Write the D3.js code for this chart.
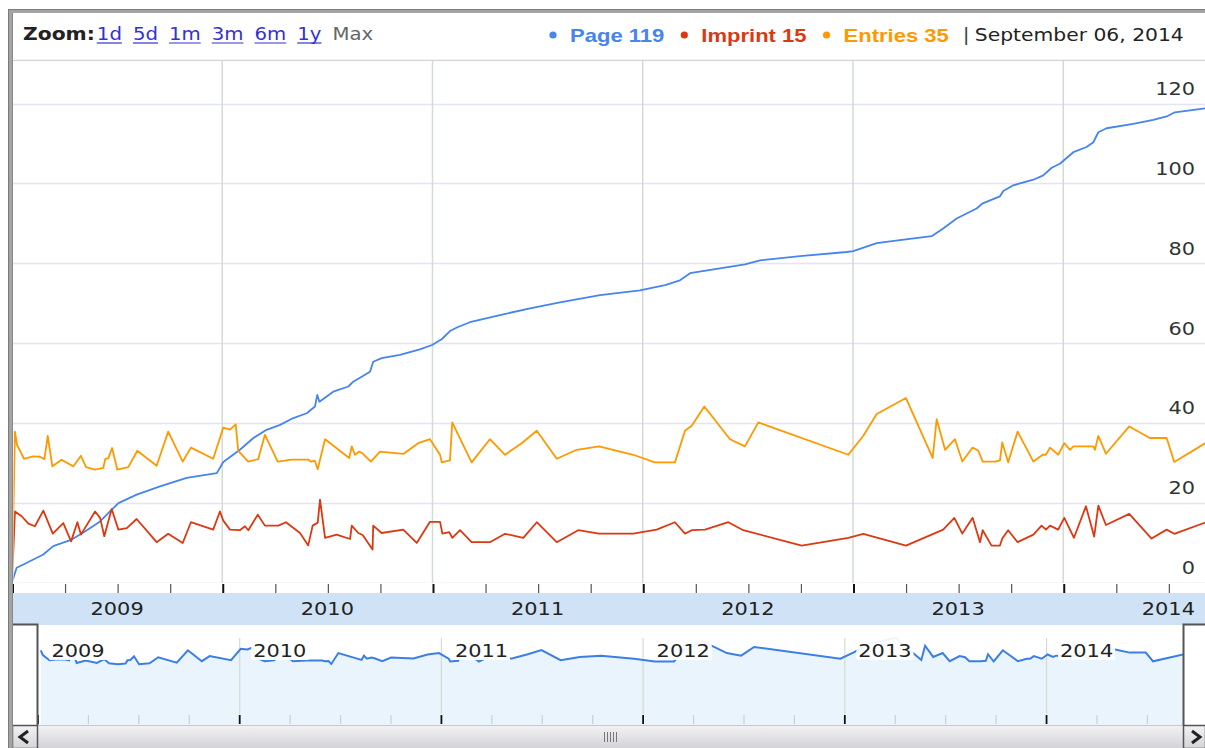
<!DOCTYPE html>
<html>
<head>
<meta charset="utf-8">
<script src="https://cdn.jsdelivr.net/npm/d3@7"></script>
<style>
    body { margin: 0; background: #fff; }
    svg { display: block; }
</style>
</head>
<body>
<svg id="chart" width="1205" height="748"></svg>
<script>
// series, x values are fractional years (2009.5 = middle of 2009)
const seriesNames = ["Page", "Imprint", "Entries"];
const seriesColors = ["#4684ee", "#dc3912", "#ff9900"];

const pageYears = [2009.000, 2009.022, 2009.054, 2009.149, 2009.196, 2009.284, 2009.347, 2009.419, 2009.466, 2009.506,
    2009.593, 2009.704, 2009.831, 2009.974, 2010.005, 2010.084, 2010.148, 2010.211, 2010.275, 2010.338,
    2010.402, 2010.441, 2010.452, 2010.462, 2010.528, 2010.600, 2010.623, 2010.703, 2010.718, 2010.758,
    2010.845, 2010.940, 2010.998, 2011.045, 2011.083, 2011.121, 2011.178, 2011.321, 2011.464, 2011.606,
    2011.797, 2011.987, 2012.106, 2012.177, 2012.225, 2012.367, 2012.486, 2012.558, 2012.748, 2012.970,
    2013.001, 2013.113, 2013.223, 2013.374, 2013.429, 2013.493, 2013.588, 2013.617, 2013.699, 2013.715,
    2013.762, 2013.858, 2013.905, 2013.945, 2013.984, 2014.048, 2014.111, 2014.143, 2014.167, 2014.206,
    2014.333, 2014.428, 2014.492, 2014.531, 2014.679];
const pageValues = [0, 3.7, 4.5, 7, 9.1, 10.75, 12.8, 15.3, 17.8, 19.9,
    22, 24.1, 26.2, 27.4, 30.2, 33.25, 36.2, 38.25, 39.5, 41.2,
    42.4, 44.1, 47, 45.3, 47.8, 49.1, 50.3, 52.8, 55.3, 56.2,
    57, 58.4, 59.5, 61, 63, 64, 65.2, 67, 68.7, 70.2,
    72, 73.2, 74.5, 75.7, 77.5, 78.7, 79.7, 80.7, 81.75, 82.8,
    83, 85, 85.75, 86.75, 88.7, 91.2, 93.7, 95, 96.75, 98.1,
    99.5, 100.9, 102, 103.9, 104.9, 107.8, 109.1, 110.3, 112.8, 113.8,
    114.9, 115.9, 116.75, 117.8, 118.8];

const imprintYears = [2009.000, 2009.014, 2009.046, 2009.078, 2009.109, 2009.149, 2009.194, 2009.244, 2009.281, 2009.311,
    2009.328, 2009.395, 2009.419, 2009.439, 2009.474, 2009.506, 2009.546, 2009.593, 2009.688, 2009.743,
    2009.812, 2009.851, 2009.957, 2009.989, 2010.005, 2010.037, 2010.084, 2010.108, 2010.124, 2010.169,
    2010.203, 2010.267, 2010.303, 2010.370, 2010.409, 2010.430, 2010.454, 2010.465, 2010.489, 2010.544,
    2010.608, 2010.616, 2010.647, 2010.668, 2010.715, 2010.718, 2010.758, 2010.861, 2010.925, 2010.988,
    2011.036, 2011.047, 2011.080, 2011.094, 2011.131, 2011.186, 2011.273, 2011.345, 2011.432, 2011.496,
    2011.591, 2011.693, 2011.792, 2011.955, 2012.066, 2012.153, 2012.201, 2012.233, 2012.296, 2012.407,
    2012.478, 2012.756, 2012.978, 2013.049, 2013.252, 2013.382, 2013.429, 2013.482, 2013.520, 2013.569,
    2013.604, 2013.617, 2013.659, 2013.699, 2013.710, 2013.738, 2013.783, 2013.858, 2013.897, 2013.918,
    2013.937, 2013.976, 2014.005, 2014.051, 2014.108, 2014.147, 2014.167, 2014.203, 2014.314, 2014.420,
    2014.492, 2014.528, 2014.679];
const imprintValues = [0, 17.8, 16.6, 14.75, 14.1, 18, 12.25, 14.9, 10.3, 15.1,
    12, 17.8, 16.2, 11.6, 18.4, 13.25, 13.6, 15.9, 10.1, 12.2,
    9.9, 15.1, 13.25, 17.8, 15.5, 13.25, 13.1, 14.1, 13.1, 17,
    14.25, 14.25, 15.1, 12.4, 9.3, 14.25, 15, 20.75, 11.2, 12,
    10.9, 14.25, 12.4, 11.9, 8.25, 14.25, 12.4, 13.25, 9.9, 15.2,
    15.2, 12.25, 12.6, 11.2, 13.1, 10.1, 10.1, 12.2, 11.2, 15.1,
    10.1, 13.1, 12.25, 12.25, 13.25, 15.1, 12.25, 13.1, 13.25, 15.1,
    13.1, 9.25, 11.2, 12.2, 9.25, 12.2, 13.25, 16.2, 12.25, 16.2,
    10.1, 13.1, 9.25, 9.25, 11, 13.1, 10.1, 12, 14.25, 13.25,
    14.25, 13.25, 16.2, 11.2, 19.1, 11.5, 19.25, 14.4, 17.2, 11,
    13.25, 12.2, 15.1];

const entriesYears = [2009.000, 2009.014, 2009.024, 2009.057, 2009.100, 2009.133, 2009.154, 2009.170, 2009.192, 2009.236,
    2009.292, 2009.328, 2009.352, 2009.395, 2009.434, 2009.444, 2009.458, 2009.476, 2009.501, 2009.553,
    2009.596, 2009.688, 2009.743, 2009.812, 2009.851, 2009.957, 2010.005, 2010.037, 2010.064, 2010.076,
    2010.124, 2010.171, 2010.203, 2010.264, 2010.330, 2010.409, 2010.421, 2010.440, 2010.454, 2010.489,
    2010.604, 2010.616, 2010.631, 2010.652, 2010.668, 2010.707, 2010.750, 2010.861, 2010.932, 2010.988,
    2011.036, 2011.044, 2011.083, 2011.094, 2011.186, 2011.273, 2011.345, 2011.424, 2011.496, 2011.591,
    2011.686, 2011.792, 2011.955, 2012.058, 2012.153, 2012.201, 2012.233, 2012.293, 2012.415, 2012.486,
    2012.550, 2012.978, 2013.049, 2013.113, 2013.252, 2013.379, 2013.398, 2013.438, 2013.485, 2013.520,
    2013.569, 2013.596, 2013.617, 2013.675, 2013.699, 2013.710, 2013.738, 2013.783, 2013.858, 2013.902,
    2013.918, 2013.937, 2013.976, 2014.005, 2014.032, 2014.048, 2014.143, 2014.151, 2014.167, 2014.203,
    2014.314, 2014.412, 2014.492, 2014.528, 2014.679];
const entriesValues = [0, 37.8, 34.5, 31, 31.6, 31.5, 30.9, 36.7, 29.1, 30.75,
    29.1, 31.75, 28.9, 28.25, 28.7, 31, 31.1, 33.7, 28.25, 28.9,
    33, 29.25, 37.8, 30.3, 33.8, 31, 38.8, 38.3, 39.6, 33,
    30.3, 30.9, 37, 30.3, 30.8, 30.8, 30.3, 30.5, 28.4, 35.9,
    31.2, 34.1, 32, 32.8, 32.3, 30.3, 32.8, 32.2, 34.9, 35.9,
    32, 30.1, 30.6, 40.1, 30.1, 35.9, 32, 34.9, 38, 31,
    33.25, 34.1, 32, 30.1, 30.1, 38, 39.25, 44.1, 35.9, 34.1,
    40.1, 32, 36.75, 42.2, 46.2, 31.2, 40.9, 33.25, 35.9, 30.3,
    33.8, 33, 30.3, 30.3, 30.6, 35.1, 30.1, 37.8, 30.3, 32,
    32, 33.8, 32, 34.9, 33.25, 34.1, 34.1, 33.25, 36.75, 32.25,
    39.1, 36.2, 36.2, 30.2, 35];

const yTicks = [0, 20, 40, 60, 80, 100, 120];
const yearTicks = [2009, 2010, 2011, 2012, 2013, 2014];
const zoomLinks = ["1d", "5d", "1m", "3m", "6m", "1y"];
const firstYear = 2009;
const lastYear = 2014.679;
const lastDateLabel = "September 06, 2014";

const series = [
    {years: pageYears, values: pageValues},
    {years: imprintYears, values: imprintValues},
    {years: entriesYears, values: entriesValues},
].map((s, i) => ({
    name: seriesNames[i],
    color: seriesColors[i],
    points: s.years.map((y, j) => ({t: y, v: s.values[j]})),
}));

const SX = 1.16; // text in the reference is slightly stretched sideways

let svg = d3.select("#chart");

function addText(parent, x, y, str, size, opts = {}) {
    return parent.append("text")
        .attr("transform", `translate(${x},${y}) scale(${SX},1)`)
        .attr("font-family", opts.family || "DejaVu Sans")
        .attr("font-size", size)
        .attr("font-weight", opts.weight || "normal")
        .attr("fill", opts.fill || "#222")
        .attr("text-anchor", opts.anchor || "start")
        .text(str);
}
function textWidth(t) {
    return t.node().getComputedTextLength() * SX;
}

let defs = svg.append("defs");
defs.append("clipPath").attr("id", "plot-clip")
    .append("rect").attr("x", 13.5).attr("y", 61).attr("width", 1192).attr("height", 523);
defs.append("clipPath").attr("id", "nav-clip")
    .append("rect").attr("x", 38).attr("y", 625).attr("width", 1145).attr("height", 100);
let grad = defs.append("linearGradient").attr("id", "scroll-grad")
    .attr("x1", 0).attr("y1", 0).attr("x2", 0).attr("y2", 1);
grad.append("stop").attr("offset", "0%").attr("stop-color", "#f3f3f5");
grad.append("stop").attr("offset", "100%").attr("stop-color", "#d4d4d8");

// scales
let x = d3.scaleLinear().domain([firstYear, lastYear]).range([12, 1206]);
let y = d3.scaleLinear().domain([0, 120]).range([582.5, 103.5]);
let xNav = d3.scaleLinear().domain([firstYear, lastYear]).range([38, 1183.5]);
let yNav = d3.scaleLinear().domain([27, 38]).range([666, 650]);

let quarterTicks = d3.range(0, 23).map(i => firstYear + i * 0.25);

// header
svg.append("rect").attr("x", 13).attr("y", 13).attr("width", 1192).attr("height", 47).attr("fill", "#fff");
svg.append("line").attr("x1", 13).attr("x2", 1205).attr("y1", 60.5).attr("y2", 60.5)
    .attr("stroke", "#d4d4d4").attr("stroke-width", 1.5);

let zt = addText(svg, 23, 40, "Zoom:", 17.5, {weight: "bold", fill: "#222"});
let lx = 23 + textWidth(zt) + 2;
zoomLinks.forEach(label => {
    let t = addText(svg, lx, 40, label, 17, {fill: "#3232d2"});
    let w = textWidth(t);
    svg.append("line").attr("x1", lx).attr("x2", lx + w).attr("y1", 43).attr("y2", 43)
        .attr("stroke", "#3232d2").attr("stroke-width", 1.2);
    lx += w + 11;
});
addText(svg, lx, 40, "Max", 17, {fill: "#666"});

// legend, values are the last points of each series
let legX = 553;
series.forEach(s => {
    let last = s.points[s.points.length - 1].v;
    svg.append("circle").attr("cx", legX).attr("cy", 35).attr("r", 3.6).attr("fill", s.color);
    let t = addText(svg, legX + 17, 42, `${s.name} ${Math.round(last)}`, 19,
        {family: "Liberation Sans", weight: "bold", fill: s.color});
    legX += 17 + textWidth(t) + 20;
});
addText(svg, legX - 6, 41, "|", 17.5, {fill: "#444"});
addText(svg, legX + 6, 41, lastDateLabel, 17.5, {fill: "#222"});

// plot grid
let plot = svg.append("g");
plot.append("rect").attr("x", 13).attr("y", 61).attr("width", 1192).attr("height", 522).attr("fill", "#fff");
plot.selectAll(".hgrid").data(yTicks).join("line")
    .attr("x1", 13).attr("x2", 1205)
    .attr("y1", d => Math.round(y(d)) + 0.5).attr("y2", d => Math.round(y(d)) + 0.5)
    .attr("stroke", "#e4e4f4").attr("stroke-width", 1.5);
plot.selectAll(".vgrid").data(yearTicks.slice(1)).join("line")
    .attr("x1", d => x(d)).attr("x2", d => x(d))
    .attr("y1", 61).attr("y2", 583)
    .attr("stroke", "#d3dcd3").attr("stroke-width", 1.5);

// y labels
yTicks.forEach(v => {
    addText(plot, 1195, y(v) - 8.5, v, 18, {anchor: "end", fill: "#333"});
});

// series lines
let line = d3.line().x(d => x(d.t)).y(d => y(d.v));
plot.append("g").attr("clip-path", "url(#plot-clip)")
    .selectAll("path").data(series).join("path")
    .attr("fill", "none")
    .attr("stroke", d => d.color)
    .attr("stroke-width", 1.8)
    .attr("stroke-linejoin", "round")
    .attr("d", d => line(d.points));

// x axis ticks and band
svg.append("rect").attr("x", 13).attr("y", 583).attr("width", 1192).attr("height", 10).attr("fill", "#fff");
svg.selectAll(".xtick").data(quarterTicks).join("line")
    .attr("x1", d => x(d) + 1).attr("x2", d => x(d) + 1)
    .attr("y1", 584).attr("y2", 593)
    .attr("stroke", d => Number.isInteger(d) ? "#111" : "#555")
    .attr("stroke-width", d => Number.isInteger(d) ? 2 : 1.2);
svg.append("rect").attr("x", 12).attr("y", 593).attr("width", 1193).attr("height", 32).attr("fill", "#d0e2f6");
yearTicks.forEach(yr => {
    addText(svg, x(yr + 0.5), 615, yr, 18, {anchor: "middle", fill: "#222"});
});

// navigator
let nav = svg.append("g");
nav.append("rect").attr("x", 13).attr("y", 625).attr("width", 1192).attr("height", 100).attr("fill", "#fff");
let navPoints = series[2].points.slice(1);
let area = d3.area().x(d => xNav(d.t)).y0(725).y1(d => yNav(d.v));
let navLine = d3.line().x(d => xNav(d.t)).y(d => yNav(d.v));
let navG = nav.append("g").attr("clip-path", "url(#nav-clip)");
navG.append("path").datum(navPoints).attr("fill", "#eaf4fd").attr("d", area);
navG.selectAll(".ngrid").data(yearTicks.slice(1)).join("line")
    .attr("x1", d => xNav(d)).attr("x2", d => xNav(d))
    .attr("y1", 638).attr("y2", 714)
    .attr("stroke", "#d3dcd3").attr("stroke-width", 1.2);
navG.append("path").datum(navPoints)
    .attr("fill", "none").attr("stroke", "#3b7fe6").attr("stroke-width", 2)
    .attr("d", navLine);
yearTicks.forEach(yr => {
    let lx0 = xNav(yr) + 13.5;
    let bg = nav.append("rect").attr("y", 635).attr("height", 25).attr("fill", "#fff").attr("opacity", 0.92);
    let t = addText(nav, lx0, 657, yr, 18, {fill: "#222"});
    bg.attr("x", lx0 - 2).attr("width", textWidth(t) + 4);
});
navG.selectAll(".ntick").data(quarterTicks).join("line")
    .attr("x1", d => xNav(d)).attr("x2", d => xNav(d))
    .attr("y1", 715).attr("y2", 724)
    .attr("stroke", d => Number.isInteger(d) ? "#111" : "#c4d6c4")
    .attr("stroke-width", d => Number.isInteger(d) ? 1.8 : 1.2);

// navigator window borders
nav.append("path").attr("d", "M12,624.5 H37.5 V748").attr("fill", "none")
    .attr("stroke", "#555").attr("stroke-width", 2);
nav.append("path").attr("d", "M1205,624.5 H1183.5 V748").attr("fill", "none")
    .attr("stroke", "#555").attr("stroke-width", 2);

// scrollbar
nav.append("rect").attr("x", 38).attr("y", 725).attr("width", 1145).attr("height", 23).attr("fill", "url(#scroll-grad)");
nav.append("line").attr("x1", 38).attr("x2", 1183).attr("y1", 725.5).attr("y2", 725.5).attr("stroke", "#c8c8cc");
let gripX = (38 + 1183) / 2;
nav.selectAll(".grip").data(d3.range(-2, 3)).join("line")
    .attr("x1", d => gripX + d * 3).attr("x2", d => gripX + d * 3)
    .attr("y1", 732).attr("y2", 742)
    .attr("stroke", "#777").attr("stroke-width", 1);
nav.append("rect").attr("x", 12.5).attr("y", 725.5).attr("width", 25).attr("height", 23)
    .attr("fill", "url(#scroll-grad)").attr("stroke", "#555").attr("stroke-width", 1.5);
nav.append("path").attr("d", "M28,731 L20,737 L28,743").attr("fill", "none")
    .attr("stroke", "#222").attr("stroke-width", 3);
nav.append("rect").attr("x", 1183.5).attr("y", 725.5).attr("width", 22).attr("height", 23)
    .attr("fill", "url(#scroll-grad)").attr("stroke", "#555").attr("stroke-width", 1.5);
nav.append("path").attr("d", "M1192,731 L1200,737 L1192,743").attr("fill", "none")
    .attr("stroke", "#222").attr("stroke-width", 3);

// outer frame
svg.append("rect").attr("x", 8).attr("y", 9).attr("width", 1197).attr("height", 4).attr("fill", "#a4a4a4");
svg.append("rect").attr("x", 8).attr("y", 9).attr("width", 5).attr("height", 739).attr("fill", "#a4a4a4");
svg.append("line").attr("x1", 8.5).attr("x2", 8.5).attr("y1", 9).attr("y2", 748).attr("stroke", "#7a7a7a");
svg.append("line").attr("x1", 12.5).attr("x2", 12.5).attr("y1", 13).attr("y2", 748).attr("stroke", "#888");
svg.append("line").attr("x1", 8).attr("x2", 1205).attr("y1", 9.5).attr("y2", 9.5).attr("stroke", "#7a7a7a");
</script>
</body>
</html>
